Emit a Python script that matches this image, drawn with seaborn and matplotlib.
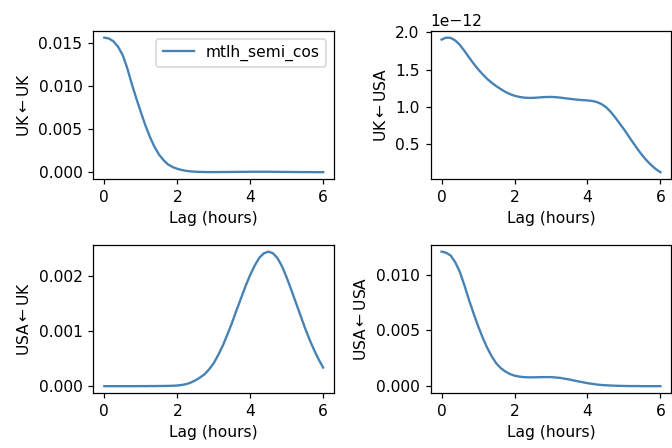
import numpy as np
import pandas as pd
import matplotlib
matplotlib.use("Agg")
import matplotlib.pyplot as plt
import seaborn as sns

# Lag grid (hours), one sample every 7.5 minutes
lags = np.linspace(0, 6, 49)

# Kernel estimates for each target <- source pair
uk_uk = [0.01565, 0.01555, 0.01522, 0.01460, 0.01365, 0.01215, 0.01030, 0.00860,
         0.00700, 0.00545, 0.00410, 0.00295, 0.00205, 0.00140, 0.00090, 0.00060,
         0.00040, 0.00026, 0.00016, 0.00010, 0.00006, 0.00004, 0.00003, 0.00002,
         0.00002, 0.00002, 0.00003, 0.00003, 0.00004, 0.00004, 0.00005, 0.00005,
         0.00006, 0.00006, 0.00006, 0.00006, 0.00006, 0.00005, 0.00005, 0.00004,
         0.00004, 0.00003, 0.00003, 0.00002, 0.00002, 0.00002, 0.00001, 0.00001,
         0.00001]

uk_usa = np.array([1.902, 1.928, 1.925, 1.890, 1.832, 1.752, 1.665, 1.582,
                   1.505, 1.437, 1.375, 1.323, 1.278, 1.237, 1.200, 1.171,
                   1.149, 1.134, 1.124, 1.120, 1.120, 1.124, 1.129, 1.132,
                   1.133, 1.130, 1.124, 1.116, 1.109, 1.101, 1.095, 1.090,
                   1.086, 1.079, 1.066, 1.040, 1.000, 0.940, 0.865, 0.783,
                   0.700, 0.610, 0.520, 0.433, 0.352, 0.280, 0.218, 0.165,
                   0.124]) * 1e-12

usa_uk = [0.000003, 0.000003, 0.000003, 0.000003, 0.000003, 0.000003, 0.000003,
          0.000003, 0.000004, 0.000004, 0.000005, 0.000005, 0.000006, 0.000007,
          0.000008, 0.000011, 0.000015, 0.000025, 0.00004, 0.00007, 0.00011,
          0.00016, 0.00022, 0.00031, 0.00042, 0.00057, 0.00074, 0.00094,
          0.00115, 0.00138, 0.00160, 0.00182, 0.00202, 0.00219, 0.00233,
          0.00241, 0.00244, 0.00241, 0.00232, 0.00217, 0.00197, 0.00175,
          0.00152, 0.00129, 0.00106, 0.00085, 0.00066, 0.00049, 0.00034]

usa_usa = [0.01205, 0.01195, 0.01170, 0.01110, 0.01025, 0.00905, 0.00775, 0.00655,
           0.00540, 0.00437, 0.00345, 0.00268, 0.00205, 0.00162, 0.00132, 0.00110,
           0.00095, 0.00087, 0.00082, 0.00080, 0.00080, 0.00081, 0.00082, 0.00082,
           0.00082, 0.00079, 0.00075, 0.00068, 0.00061, 0.00052, 0.00044, 0.00036,
           0.00028, 0.00022, 0.00016, 0.00012, 0.00009, 0.00007, 0.00005, 0.00004,
           0.00003, 0.00002, 0.00002, 0.00002, 0.00001, 0.00001, 0.00001, 0.00001,
           0.00001]

panel_labels = ["UK$\\leftarrow$UK", "UK$\\leftarrow$USA",
                "USA$\\leftarrow$UK", "USA$\\leftarrow$USA"]
series = [uk_uk, uk_usa, usa_uk, usa_usa]
kernel_name = "mtlh_semi_cos"
line_color = "#4682b4"

fig, axes = plt.subplots(2, 2, figsize=(6, 4), dpi=112)
fig.subplots_adjust(left=0.139, right=0.999, top=0.931, bottom=0.123,
                    wspace=0.401, hspace=0.446)

for i, (ax, label, vals) in enumerate(zip(axes.flat, panel_labels, series)):
    df = pd.DataFrame({"lag": lags, "value": vals})
    sns.lineplot(data=df, x="lag", y="value", ax=ax, color=line_color,
                 linewidth=1.5, label=kernel_name if i == 0 else None,
                 legend=(i == 0))
    ax.set_xlabel("Lag (hours)")
    ax.set_ylabel(label)
    ax.set_xticks([0, 2, 4, 6])

axes[0, 0].legend(loc="upper right")

fig.savefig("out.png", dpi=112)
